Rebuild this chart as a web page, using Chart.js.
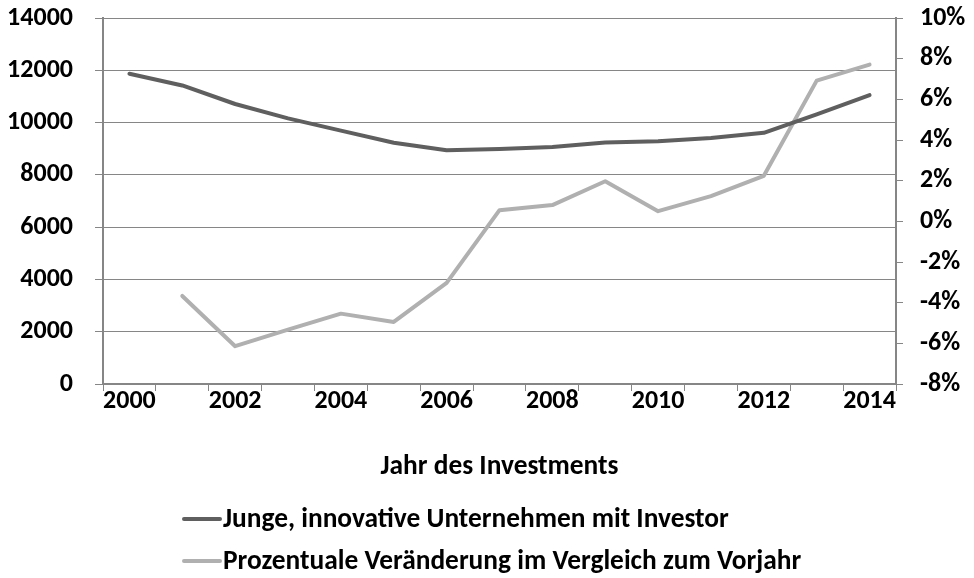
<!DOCTYPE html>
<html>
<head>
<meta charset="utf-8">
<script src="https://cdn.jsdelivr.net/npm/chart.js@4/dist/chart.umd.min.js"></script>
<style>
  html, body { margin: 0; padding: 0; background: #ffffff; }
  #wrap { width: 974px; height: 578px; position: relative; }
</style>
</head>
<body>
<div id="wrap"><canvas id="chart"></canvas></div>
<script>
// Investment years on the category axis
const years = ['2000','2001','2002','2003','2004','2005','2006','2007','2008','2009','2010','2011','2012','2013','2014'];

// Number of young, innovative companies with an investor (left axis)
const companies = [11870, 11420, 10710, 10160, 9690, 9230, 8940, 8990, 9070, 9240, 9290, 9410, 9610, 10310, 11050];

// Change compared with the previous year, in percent (right axis)
const changePct = [null, -3.67, -6.14, -5.33, -4.54, -4.95, -3.03, 0.55, 0.80, 1.97, 0.50, 1.24, 2.24, 6.92, 7.71];

// Axis ticks
const leftTicks = [0, 2000, 4000, 6000, 8000, 10000, 12000, 14000];
const rightTicks = [-8, -6, -4, -2, 0, 2, 4, 6, 8, 10];

const seriesNames = ['Junge, innovative Unternehmen mit Investor', 'Prozentuale Veränderung im Vergleich zum Vorjahr'];
const axisTitle = 'Jahr des Investments';

const FONT = 'Carlito, Lato, sans-serif';
const TICK_SIZE = 26;
const TEXT_SIZE = 27.4;
const AXIS_GREY = '#868686';

// Legend drawn as a left-aligned stacked list under the axis title
const stackedLegend = {
  id: 'stackedLegend',
  afterDraw(chart) {
    const ctx = chart.ctx;
    ctx.save();
    ctx.font = 'bold ' + TEXT_SIZE + 'px ' + FONT;
    ctx.textBaseline = 'middle';
    ctx.textAlign = 'left';
    const rows = [519, 561];
    chart.data.datasets.forEach((ds, i) => {
      const y = rows[i];
      ctx.strokeStyle = ds.borderColor;
      ctx.lineWidth = 4;
      ctx.lineCap = 'round';
      ctx.beginPath();
      ctx.moveTo(184, y);
      ctx.lineTo(220, y);
      ctx.stroke();
      ctx.fillStyle = '#000000';
      ctx.fillText(ds.label, 223, y + 1);
    });
    ctx.restore();
  }
};

// Vertical axes: drop the extra label padding so the plot spans the full height
const noVPad = (s) => { s.paddingTop = 0; s.paddingBottom = 0; };

function draw() {
  new Chart(document.getElementById('chart'), {
    type: 'line',
    data: {
      labels: years,
      datasets: [
        {
          label: seriesNames[0],
          data: companies,
          yAxisID: 'y',
          borderColor: '#5f5f5f',
          borderWidth: 4,
          pointRadius: 0,
          tension: 0,
          borderJoinStyle: 'round',
          borderCapStyle: 'round'
        },
        {
          label: seriesNames[1],
          data: changePct,
          yAxisID: 'y1',
          borderColor: '#b0b0b0',
          borderWidth: 4,
          pointRadius: 0,
          tension: 0,
          borderJoinStyle: 'round',
          borderCapStyle: 'round'
        }
      ]
    },
    options: {
      responsive: true,
      maintainAspectRatio: false,
      animation: false,
      layout: { padding: { top: 18, bottom: 94, left: 0, right: 0 } },
      plugins: {
        legend: { display: false },
        tooltip: { enabled: false }
      },
      scales: {
        x: {
          type: 'category',
          offset: true,
          grid: {
            offset: true,
            drawOnChartArea: false,
            drawTicks: true,
            tickLength: 7,
            color: AXIS_GREY,
            lineWidth: 1
          },
          border: { display: true, color: AXIS_GREY, width: 2 },
          ticks: {
            autoSkip: false,
            maxRotation: 0,
            padding: -5,
            color: '#000000',
            font: { family: FONT, size: TICK_SIZE, weight: 'bold' },
            callback: (v, i) => (i % 2 === 0 ? years[i] : '')
          },
          title: {
            display: true,
            text: axisTitle,
            color: '#000000',
            font: { family: FONT, size: TEXT_SIZE, weight: 'bold' },
            padding: { top: 0, bottom: 0 }
          },
          afterFit: (s) => { s.height = 100; s.paddingLeft = 0; s.paddingRight = 0; }
        },
        y: {
          position: 'left',
          min: 0,
          max: 14000,
          afterBuildTicks: (s) => { s.ticks = leftTicks.map(v => ({ value: v })); },
          grid: {
            color: AXIS_GREY,
            lineWidth: 1,
            drawTicks: true,
            tickLength: 8
          },
          border: { display: true, color: AXIS_GREY, width: 2 },
          ticks: {
            padding: 22,
            color: '#000000',
            font: { family: FONT, size: TICK_SIZE, weight: 'bold' },
            callback: (v) => String(v)
          },
          afterFit: (s) => { s.width = 103; noVPad(s); }
        },
        y1: {
          position: 'right',
          min: -8,
          max: 10,
          afterBuildTicks: (s) => { s.ticks = rightTicks.map(v => ({ value: v })); },
          grid: {
            drawOnChartArea: false,
            drawTicks: true,
            tickLength: 7,
            color: AXIS_GREY,
            lineWidth: 1
          },
          border: { display: true, color: AXIS_GREY, width: 2 },
          ticks: {
            padding: 17,
            color: '#000000',
            font: { family: FONT, size: TICK_SIZE, weight: 'bold' },
            callback: (v) => v + '%'
          },
          afterFit: (s) => { s.width = 78; noVPad(s); }
        }
      }
    },
    plugins: [stackedLegend]
  });
}

const fontReady = document.fonts && document.fonts.load
  ? Promise.all([
      document.fonts.load('bold ' + TICK_SIZE + 'px Carlito'),
      document.fonts.load('bold ' + TEXT_SIZE + 'px Carlito')
    ]).catch(() => null)
  : Promise.resolve();
fontReady.then(draw);
</script>
</body>
</html>
